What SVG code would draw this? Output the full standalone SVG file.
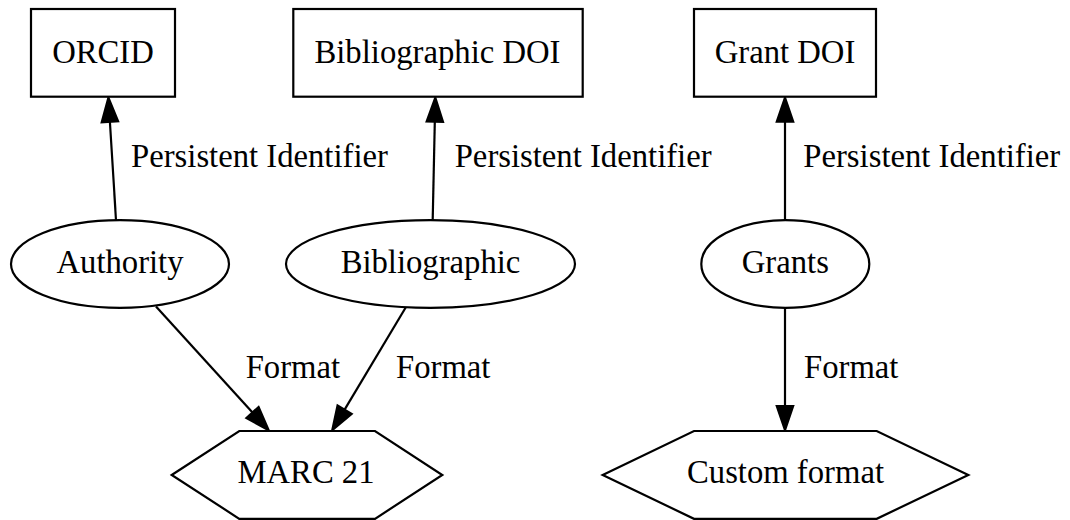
<svg xmlns="http://www.w3.org/2000/svg" width="1070" height="520" viewBox="0 0 1070 520">
  <defs>
    <style>
      .shape { fill: #ffffff; stroke: #000000; stroke-width: 2.2; }
      .edge { fill: none; stroke: #000000; stroke-width: 2.2; }
      text { font-family: "Liberation Serif", "Times New Roman", serif; font-size: 32.7px; fill: #000000; }
      .c { text-anchor: middle; }
    </style>
    <marker id="arrow" markerUnits="userSpaceOnUse" orient="auto" refX="0" refY="0" markerWidth="40" markerHeight="40" overflow="visible">
      <path d="M0,-8.2 L24,0 L0,8.2 Z" fill="#000000" stroke="#000000" stroke-width="2.2"/>
    </marker>
  </defs>
  <rect width="1070" height="520" fill="#ffffff"/>

  <!-- connectors -->
  <g id="edges">
    <path class="edge" d="M116,220 L109.9,121.7" marker-end="url(#arrow)"/>
    <path class="edge" d="M432.7,220 L434.8,121.7" marker-end="url(#arrow)"/>
    <path class="edge" d="M785,220 L785,121.7" marker-end="url(#arrow)"/>
    <path class="edge" d="M156,306.5 L252.5,412.5" marker-end="url(#arrow)"/>
    <path class="edge" d="M406,307 L344.6,409.6" marker-end="url(#arrow)"/>
    <path class="edge" d="M785,307.7 L785,406" marker-end="url(#arrow)"/>
    <text x="131" y="167.3">Persistent Identifier</text>
    <text x="454.7" y="167.3">Persistent Identifier</text>
    <text x="803.3" y="167.3">Persistent Identifier</text>
    <text x="245.7" y="378.3">Format</text>
    <text x="396" y="378.3">Format</text>
    <text x="804" y="378.3">Format</text>
  </g>

  <!-- identifier boxes -->
  <g id="orcid">
    <rect class="shape" x="31" y="9" width="144" height="87.7"/>
    <text class="c" x="103" y="62.5">ORCID</text>
  </g>
  <g id="bibliographic-doi">
    <rect class="shape" x="293.3" y="9" width="289.4" height="87.7"/>
    <text class="c" x="437.5" y="62.5">Bibliographic DOI</text>
  </g>
  <g id="grant-doi">
    <rect class="shape" x="694" y="9" width="182" height="87.7"/>
    <text class="c" x="785" y="62.5">Grant DOI</text>
  </g>

  <!-- record types -->
  <g id="authority">
    <ellipse class="shape" cx="120" cy="264" rx="109" ry="43.8"/>
    <text class="c" x="120" y="272.7">Authority</text>
  </g>
  <g id="bibliographic">
    <ellipse class="shape" cx="430.5" cy="264" rx="144.5" ry="43.8"/>
    <text class="c" x="430.5" y="272.7">Bibliographic</text>
  </g>
  <g id="grants">
    <ellipse class="shape" cx="785.3" cy="264" rx="84" ry="43.8"/>
    <text class="c" x="785.3" y="272.7">Grants</text>
  </g>

  <!-- formats -->
  <g id="marc21">
    <polygon class="shape" points="171.7,475 239.3,431 375,431 442.3,475 375,518.8 239.3,518.8"/>
    <text class="c" x="306" y="482.7">MARC 21</text>
  </g>
  <g id="custom-format">
    <polygon class="shape" points="602.7,475 694,431 876.7,431 968.3,475 876.7,518.8 694,518.8"/>
    <text class="c" x="785.5" y="482.7">Custom format</text>
  </g>
</svg>
